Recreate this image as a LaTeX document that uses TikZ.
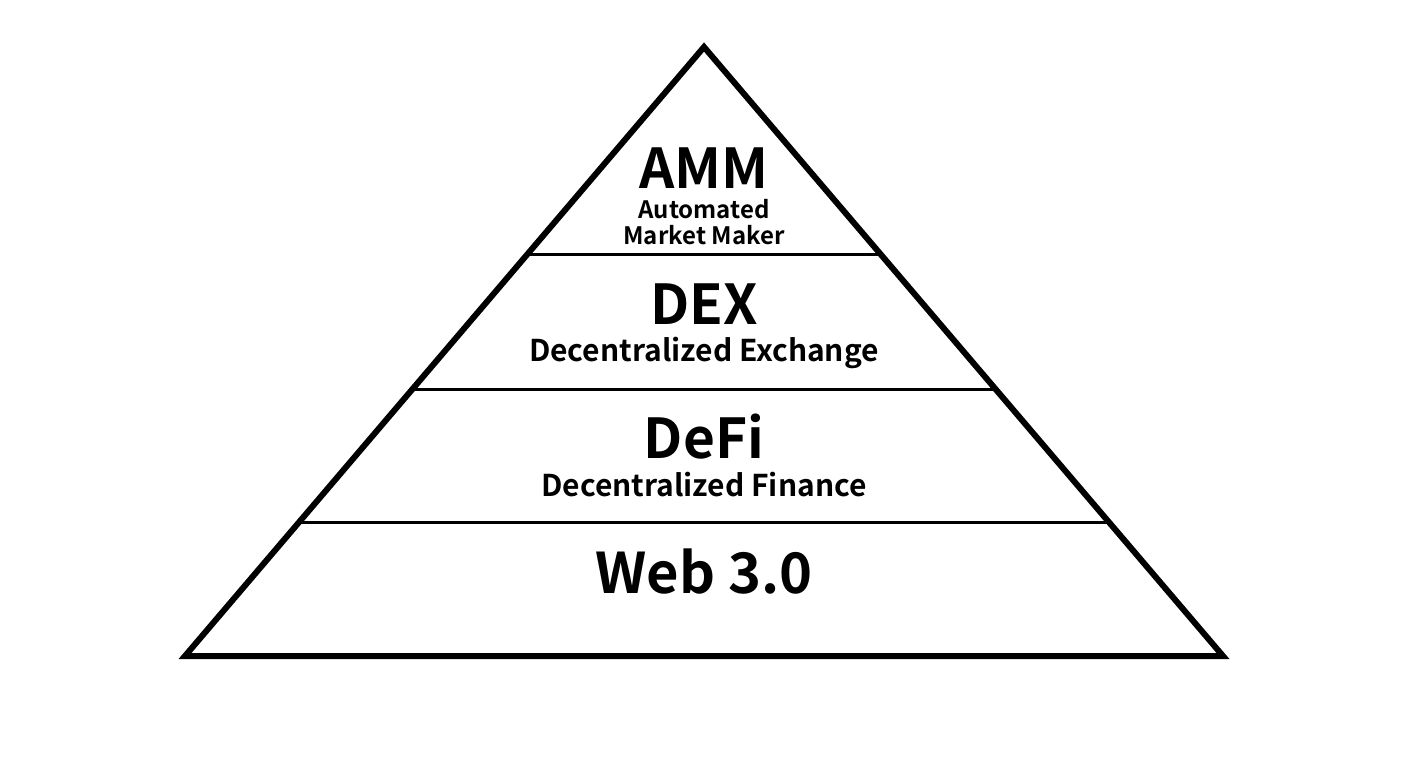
\documentclass[tikz,border=0pt]{standalone}
\usepackage{fontspec}
\setmainfont{Noto Sans CJK JP}[BoldFont={* Bold}]
\usetikzlibrary{calc}
\tikzset{
  outer/.style={line width=6pt, line join=miter},
  tier/.style={line width=3pt},
  title/.style={anchor=base, inner sep=0pt, font=\bfseries\fontsize{55}{60}\selectfont},
  sub/.style={anchor=base, inner sep=0pt, font=\bfseries\fontsize{30}{32}\selectfont},
  smallsub/.style={anchor=base, inner sep=0pt, font=\bfseries\fontsize{24}{28}\selectfont},
}
\begin{document}
\begin{tikzpicture}[x=1pt,y=-1pt]
\useasboundingbox (0,0) rectangle (1408,768);
\coordinate (A) at (704,47);
\coordinate (L) at (185,656);
\coordinate (R) at (1223,656);
% tier lines
\draw[tier] ($(L)!0.6585!(A)$) -- ($(R)!0.6585!(A)$);
\draw[tier] ($(L)!0.4384!(A)$) -- ($(R)!0.4384!(A)$);
\draw[tier] ($(L)!0.2200!(A)$) -- ($(R)!0.2200!(A)$);
\draw[outer] (A) -- (L) -- (R) -- cycle;
% texts
\node[title] (amm) at (704,188) {AMM};
\node[smallsub] (amm1) at (704,218) {Automated};
\node[smallsub] (amm2) at (704,244) {Market Maker};
\node[title] (dex) at (704,324) {DEX};
\node[sub] (dex1) at (704,361) {Decentralized Exchange};
\node[title] (defi) at (704,458) {DeFi};
\node[sub] (defi1) at (704,496) {Decentralized Finance};
\node[title, font=\bfseries\fontsize{56}{60}\selectfont] (web) at (704,593) {Web 3.0};
\end{tikzpicture}
\end{document}
